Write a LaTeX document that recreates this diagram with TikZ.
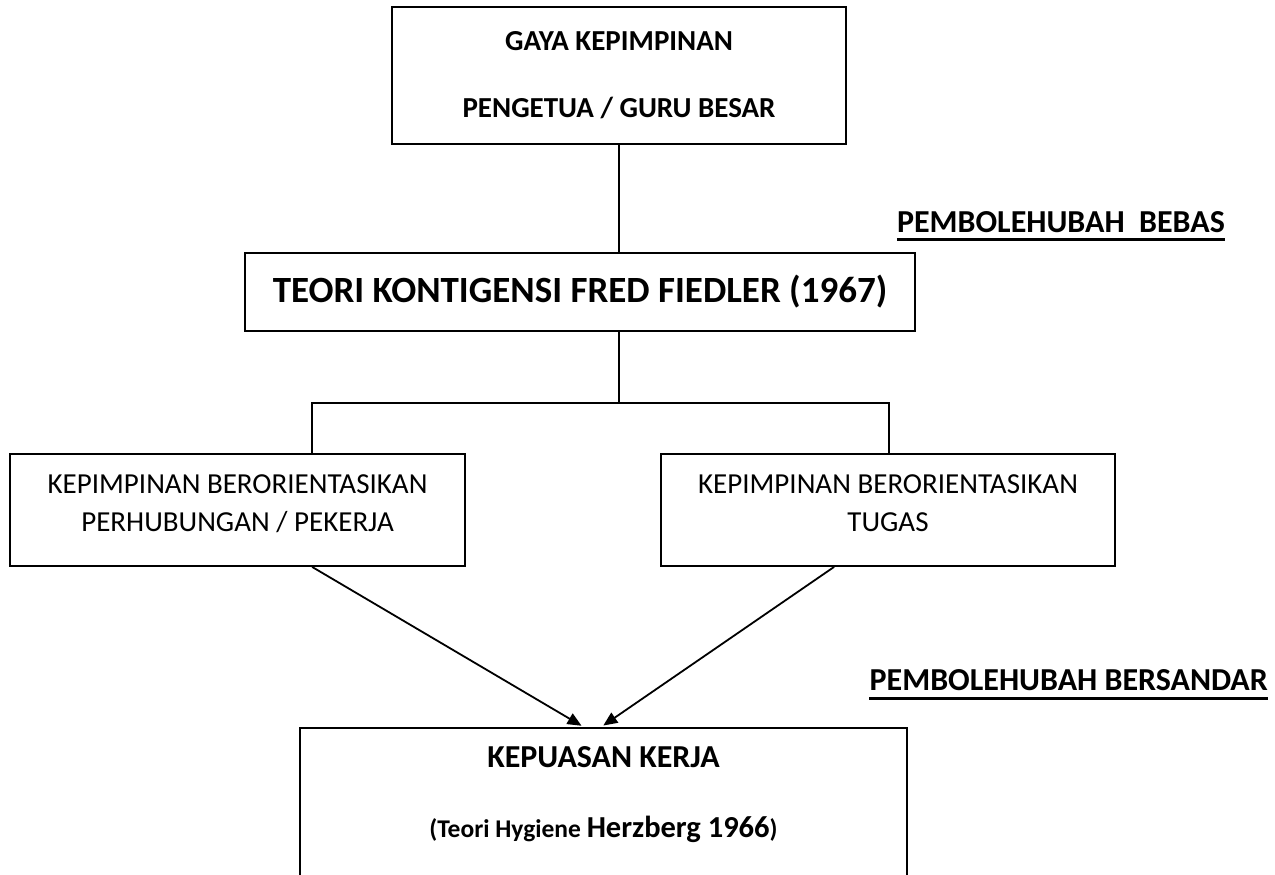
\documentclass[tikz,border=0pt]{standalone}
\usepackage{fontspec}
\setmainfont{Carlito}
\usetikzlibrary{arrows.meta,calc}
\newcommand{\lowstrut}{\rule[-14pt]{0pt}{14pt}}
\begin{document}
\begin{tikzpicture}[x=1pt,y=-1pt,
  boxline/.style={line width=1.8pt},
  framebox/.style={draw, boxline, inner sep=0pt, align=center},
  conn/.style={line width=1.8pt},
  arr/.style={conn, -{Triangle[length=14pt,width=12pt]}, shorten >=4pt},
  varlabel/.style={inner sep=0pt, font=\fontsize{32}{38}\selectfont\bfseries},
  ul/.style={line width=3pt}
]
\useasboundingbox (0,0) rectangle (1275,875);
\clip (0,0) rectangle (1275,875);

\node[framebox, minimum width=454, minimum height=137,
      font=\fontsize{29}{67}\selectfont\bfseries] (gaya) at (619,75.5)
      {GAYA KEPIMPINAN\\PENGETUA / GURU BESAR};

\node[framebox, minimum width=670, minimum height=78,
      font=\fontsize{37}{44}\selectfont\bfseries] (teori) at (580,292)
      {TEORI KONTIGENSI FRED FIEDLER (1967)};

\node[framebox, minimum width=455, minimum height=112,
      font=\fontsize{29}{38}\selectfont] (orang) at (237.5,510)
      {KEPIMPINAN BERORIENTASIKAN\\PERHUBUNGAN / PEKERJA\lowstrut};

\node[framebox, minimum width=454, minimum height=112,
      font=\fontsize{29}{38}\selectfont] (tugas) at (888,510)
      {KEPIMPINAN BERORIENTASIKAN\\TUGAS\lowstrut};

\node[inner sep=0pt, minimum width=607, minimum height=134, align=center,
      font=\fontsize{32}{70}\selectfont\bfseries] (kerja) at (603.5,795)
      {KEPUASAN KERJA\\{\fontsize{25.5}{70}\selectfont (Teori Hygiene }{\fontsize{30.5}{70}\selectfont Herzberg 1966}{\fontsize{25.5}{70}\selectfont )}};
\draw[boxline] ([yshift=-40pt]kerja.south west) -- (kerja.north west)
  -- (kerja.north east) -- ([yshift=-40pt]kerja.south east);

\coordinate (busL) at (312,403);
\coordinate (busR) at (889,403);
\draw[conn] (gaya.south) -- (gaya.south |- teori.north);
\draw[conn] (gaya.south |- teori.south) -- (gaya.south |- busL);
\draw[conn] (busL |- orang.north) -- (busL) -- (busR) -- (busR |- tugas.north);

\draw[arr] ([xshift=303pt]orang.south west) -- ([xshift=-18.5pt]kerja.north);
\draw[arr] ([xshift=174pt]tugas.south west) -- ([xshift=-3.5pt]kerja.north);

\node[varlabel, anchor=base east] (bebas) at (1225,232) {PEMBOLEHUBAH\ \ BEBAS};
\draw[ul] ([yshift=-7pt]bebas.base west) -- ([yshift=-7pt]bebas.base east);
\node[varlabel, anchor=base east] (sandar) at (1268,690) {PEMBOLEHUBAH BERSANDAR};
\draw[ul] ([yshift=-8pt]sandar.base west) -- ([yshift=-8pt]sandar.base east);
\end{tikzpicture}
\end{document}
